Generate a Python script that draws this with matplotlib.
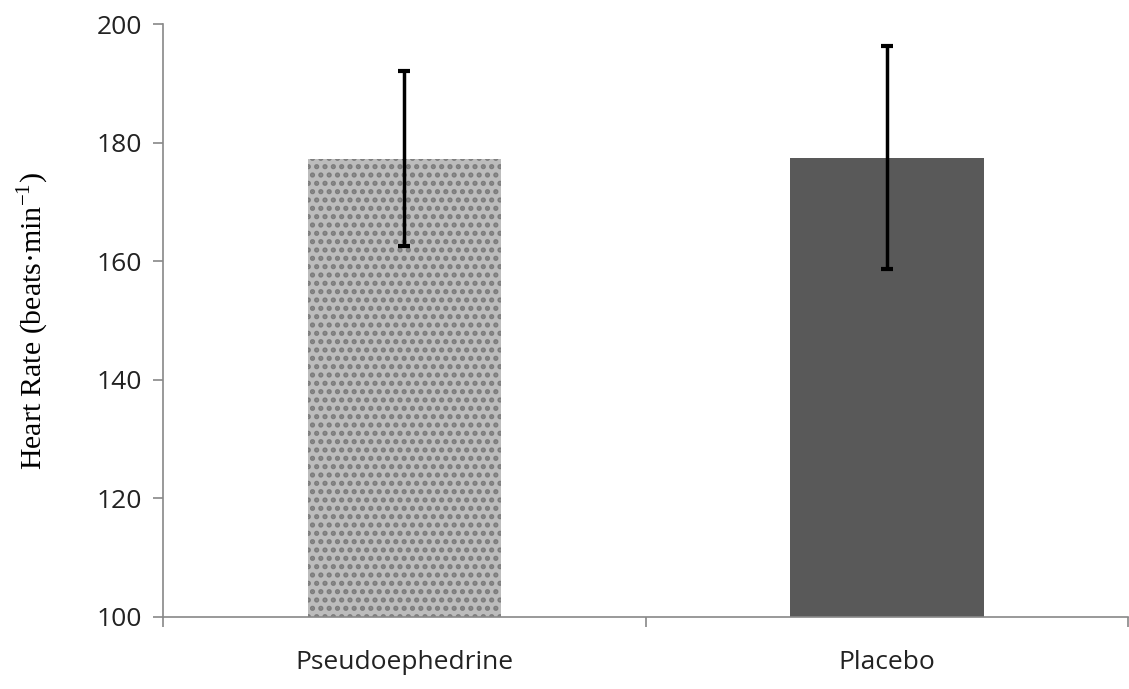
import matplotlib.pyplot as plt

groups = ['Pseudoephedrine', 'Placebo']
heart_rate = [177.3, 177.5]
sd = [14.8, 18.8]
y_ticks = [100, 120, 140, 160, 180, 200]

plt.rcParams['hatch.linewidth'] = 2.5

fig = plt.figure(figsize=(11.29, 6.89), dpi=100)
ax = fig.add_axes([0.1444, 0.1045, 0.855, 0.8605])

x = range(len(groups))
bars = ax.bar(x, [h - 100 for h in heart_rate], bottom=100, width=0.4,
              color=['#bcbcbc', '#595959'], linewidth=0)
# speckled fill for the first bar
bars[0].set_hatch('..')
bars[0].set_edgecolor('#7c7c7c')
bars[1].set_edgecolor('#595959')
ax.errorbar(x, heart_rate, yerr=sd, fmt='none', ecolor='black',
            elinewidth=2.5, capsize=4.5, capthick=3)

ax.set_xlim(-0.5, 1.5)
ax.set_ylim(100, 200)
ax.set_yticks(y_ticks)
ax.set_yticklabels([str(v) for v in y_ticks], family='Open Sans', fontsize=19, color='#222222')
ax.set_xticks(list(x))
ax.set_xticklabels(groups, family='Open Sans', fontsize=19, color='#222222')
ax.tick_params(axis='x', which='major', length=0, pad=24)
ax.set_xticks([-0.5, 0.5, 1.5], minor=True)
ax.tick_params(axis='x', which='minor', length=7, color='#888888', width=1.2, direction='out')
ax.tick_params(axis='y', length=7, color='#888888', width=1.2, pad=8)

for side in ['top', 'right']:
    ax.spines[side].set_visible(False)
for side in ['left', 'bottom']:
    ax.spines[side].set_color('#888888')
    ax.spines[side].set_linewidth(1.2)

ax.set_ylabel('Heart Rate (beats·min$^{\\mathregular{-1}}$)', family='Liberation Serif',
              fontsize=21.5, labelpad=33)

fig.savefig('out.png', dpi=100)
